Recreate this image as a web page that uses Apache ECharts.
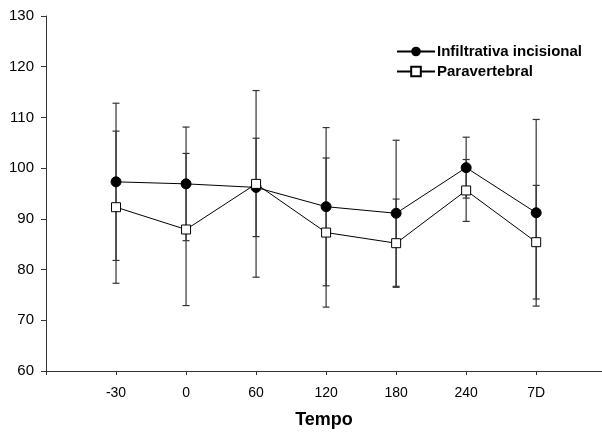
<!DOCTYPE html>
<html>
<head>
<meta charset="utf-8">
<script src="https://cdn.jsdelivr.net/npm/echarts@6/dist/echarts.min.js"></script>
<style>
	html, body { margin: 0; padding: 0; background: #fff; }
	#chart { width: 602px; height: 432px; }
</style>
</head>
<body>
<div id="chart"></div>
<script>
// dados (média ± DP)
var tempos = ['-30', '0', '60', '120', '180', '240', '7D'];
var infMedia = [97.3, 96.9, 96.2, 92.4, 91.1, 100.1, 91.2];
var infDP = [15.5, 11.2, 9.7, 15.6, 14.4, 6.0, 18.4];
var parMedia = [92.3, 87.9, 96.9, 87.3, 85.2, 95.6, 85.4];
var parDP = [15.0, 15.0, 18.4, 14.7, 8.7, 6.1, 11.2];
var yTicks = [60, 70, 80, 90, 100, 110, 120, 130];

var fonte = '"Liberation Sans", Arial, sans-serif';

function pontos(media) {
	return media.map(function(v, i) { return [i + 1, v]; });
}
function barras(media, dp) {
	return media.map(function(v, i) { return [i + 1, v - dp[i], v + dp[i]]; });
}

function desenhaBarra(params, api) {
	var x = api.value(0);
	var lo = api.coord([x, api.value(1)]);
	var hi = api.coord([x, api.value(2)]);
	var w = 3.5;
	var estilo = { stroke: '#333', lineWidth: 1.2 };
	return {
		type: 'group',
		children: [
			{ type: 'line', shape: { x1: lo[0], y1: lo[1], x2: hi[0], y2: hi[1] }, style: estilo },
			{ type: 'line', shape: { x1: lo[0] - w, y1: lo[1], x2: lo[0] + w, y2: lo[1] }, style: estilo },
			{ type: 'line', shape: { x1: hi[0] - w, y1: hi[1], x2: hi[0] + w, y2: hi[1] }, style: estilo }
		]
	};
}

var chart = echarts.init(document.getElementById('chart'));
var option = {
	animation: false,
	textStyle: { fontFamily: fonte },
	grid: { left: 46, right: 0, top: 16, bottom: 61, outerBoundsMode: 'none', containLabel: false },
	legend: {
		orient: 'vertical',
		left: 391,
		top: 39,
		itemWidth: 38,
		itemHeight: 12,
		itemGap: 5,
		data: ['Infiltrativa incisional', 'Paravertebral'],
		textStyle: { fontFamily: fonte, fontSize: 15, fontWeight: 'bold', color: '#000', padding: [0, 0, 0, -3] }
	},
	xAxis: {
		type: 'value',
		min: 0,
		max: 7.94,
		interval: 1,
		name: 'Tempo',
		nameLocation: 'middle',
		nameGap: 40,
		nameTextStyle: { fontFamily: fonte, fontSize: 18, fontWeight: 'bold', color: '#000' },
		axisLine: { lineStyle: { color: '#333', width: 1 } },
		axisTick: { length: 4, lineStyle: { color: '#333' } },
		splitLine: { show: false },
		axisLabel: {
			color: '#000',
			fontSize: 14,
			margin: 15,
			showMaxLabel: false,
			formatter: function(v) { return tempos[v - 1] || ''; }
		}
	},
	yAxis: {
		type: 'value',
		min: yTicks[0],
		max: yTicks[yTicks.length - 1],
		interval: 10,
		axisLine: { show: true, lineStyle: { color: '#333', width: 1 } },
		axisTick: { show: true, length: 5, lineStyle: { color: '#333' } },
		splitLine: { show: false },
		axisLabel: { color: '#000', fontSize: 15, margin: 12 }
	},
	series: [
		{
			name: 'Infiltrativa incisional',
			type: 'line',
			data: pontos(infMedia),
			symbol: 'circle',
			symbolSize: 10,
			lineStyle: { color: '#000', width: 1 },
			itemStyle: { color: '#000', borderColor: '#000' },
			z: 4
		},
		{
			name: 'Paravertebral',
			type: 'line',
			data: pontos(parMedia),
			symbol: 'rect',
			symbolSize: 9,
			lineStyle: { color: '#000', width: 1 },
			itemStyle: { color: '#fff', borderColor: '#000', borderWidth: 1 },
			z: 5
		},
		{
			type: 'custom',
			renderItem: desenhaBarra,
			data: barras(infMedia, infDP),
			encode: { x: 0, y: [1, 2] },
			silent: true,
			z: 2
		},
		{
			type: 'custom',
			renderItem: desenhaBarra,
			data: barras(parMedia, parDP),
			encode: { x: 0, y: [1, 2] },
			silent: true,
			z: 2
		}
	]
};
chart.setOption(option);
</script>
</body>
</html>
